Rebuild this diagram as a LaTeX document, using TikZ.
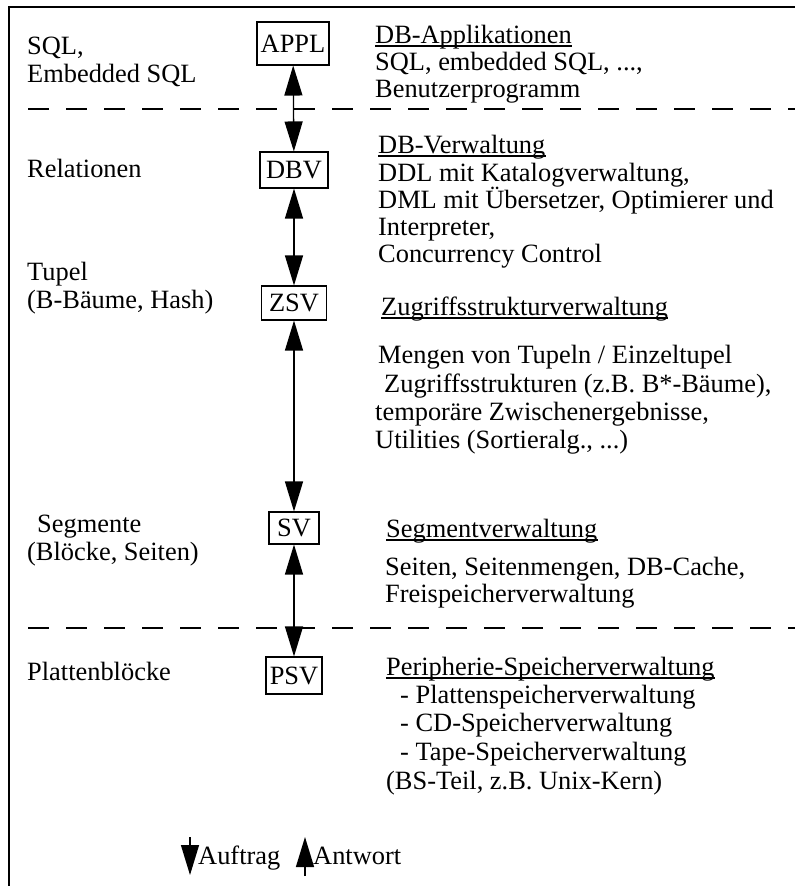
\documentclass[tikz,border=0pt]{standalone}
\usepackage{fontspec}
\setmainfont{Liberation Serif}
\usetikzlibrary{arrows.meta}
\tikzset{bigtip/.tip={Triangle[length=30pt,width=18pt]}}
\begin{document}
\begin{tikzpicture}[x=1pt,y=-1pt,
  txt/.style={anchor=base west,inner sep=0pt,font=\fontsize{26.4}{28}\selectfont},
  layerbox/.style={draw,line width=1.1pt,inner xsep=3pt,inner ysep=0pt,text height=17.5pt,text depth=0pt,font=\fontsize{26.4}{28}\selectfont},
  link/.style={line width=1.3pt,{bigtip}-{bigtip}},
  uline/.style={line width=1.3pt},
  sep/.style={dash pattern=on 21pt off 17pt,line width=1.1pt}]
\useasboundingbox (0,0) rectangle (795,886);
% frame
\draw[line width=2.4pt] (9,886) -- (9,7) -- (795,7);
% separators
\draw[sep] (28,109) -- (795,109);
\draw[sep] (28,628) -- (795,628);
% layer boxes
\node[layerbox,minimum width=72pt,minimum height=43pt] (appl) at (293,43.5) {APPL};
\node[layerbox,minimum width=68pt,minimum height=36pt] (dbv) at (294,170) {DBV};
\node[layerbox,minimum width=65pt,minimum height=34pt] (zsv) at (294,303) {ZSV};
\node[layerbox,minimum width=50pt,minimum height=32pt] (sv) at (294,528) {SV};
\node[layerbox,minimum width=56pt,minimum height=37pt] (psv) at (294,675.5) {PSV};
\draw[link] (appl) -- (dbv);
\draw[link] (dbv) -- (zsv);
\draw[link] (zsv) -- (sv);
\draw[link] (sv) -- (psv);
% left column
\node[txt] (l1) at (27,54) {SQL,};
\node[txt] (l2) at (27,82) {Embedded SQL};
\node[txt] (l3) at (27,177) {Relationen};
\node[txt] (l4) at (27,280) {Tupel};
\node[txt] (l5) at (27,308) {(B-Bäume, Hash)};
\node[txt] (l6) at (37,532) {Segmente};
\node[txt] (l7) at (27,560) {(Blöcke, Seiten)};
\node[txt] (l8) at (27,680) {Plattenblöcke};
% right column
\node[txt] (r1) at (375,43) {DB-Applikationen};
\node[txt] (r2) at (375,70) {SQL, embedded SQL, ...,};
\node[txt] (r3) at (375,97) {Benutzerprogramm};
\node[txt] (r4) at (378,153) {DB-Verwaltung};
\node[txt] (r5) at (378,181) {DDL mit Katalogverwaltung,};
\node[txt] (r6) at (378,208) {DML mit Übersetzer, Optimierer und};
\node[txt] (r7) at (378,235) {Interpreter,};
\node[txt] (r8) at (378,262) {Concurrency Control};
\node[txt] (r9) at (381,315) {Zugriffsstrukturverwaltung};
\node[txt] (r10) at (378,363) {Mengen von Tupeln / Einzeltupel};
\node[txt] (r11) at (384,392) {Zugriffsstrukturen (z.B. B*-Bäume),};
\node[txt] (r12) at (375,420) {temporäre Zwischenergebnisse,};
\node[txt] (r13) at (375,448) {Utilities (Sortieralg., ...)};
\node[txt] (r14) at (386,537) {Segmentverwaltung};
\node[txt] (r15) at (385,575) {Seiten, Seitenmengen, DB-Cache,};
\node[txt] (r16) at (385,602) {Freispeicherverwaltung};
\node[txt] (r17) at (386,675) {Peripherie-Speicherverwaltung};
\node[txt] (r18) at (400,703) {- Plattenspeicherverwaltung};
\node[txt] (r19) at (400,731) {- CD-Speicherverwaltung};
\node[txt] (r20) at (400,760) {- Tape-Speicherverwaltung};
\node[txt] (r21) at (386,789) {(BS-Teil, z.B. Unix-Kern)};
% underlines
\foreach \n in {r1,r4,r9,r14,r17}
  \draw[uline] ([yshift=-3pt]\n.base west) -- ([yshift=-3pt]\n.base east);
% legend
\coordinate (d1) at (190,837);
\coordinate (d2) at (190,875);
\draw[line width=1.3pt,-{bigtip}] (d1) -- (d2);
\node[txt] (auf) at (198,864) {Auftrag};
\coordinate (u1) at (305,876);
\coordinate (u2) at (305,837);
\draw[line width=1.3pt,-{bigtip}] (u1) -- (u2);
\node[txt] (ant) at (313,864) {Antwort};
\end{tikzpicture}
\end{document}
